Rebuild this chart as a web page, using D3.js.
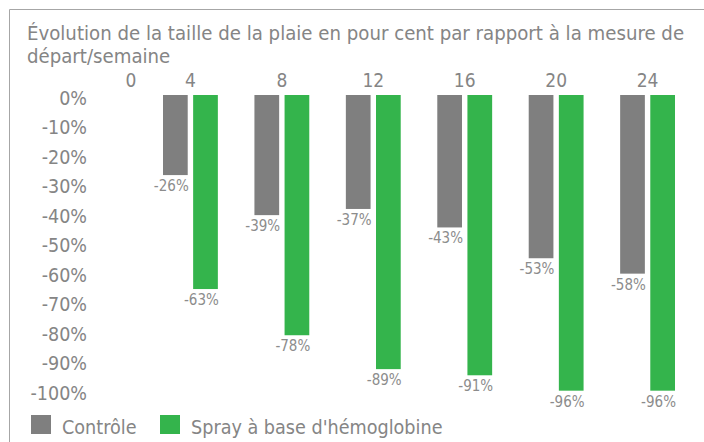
<!DOCTYPE html>
<html>
<head>
<meta charset="utf-8">
<script src="https://cdn.jsdelivr.net/npm/d3@7"></script>
<style>
  html, body { margin: 0; padding: 0; background: #fff; }
  svg text { font-family: "Liberation Sans Narrow", "DejaVu Sans Condensed", "Roboto Condensed", sans-serif; fill: #858585; }
</style>
</head>
<body>
<script>
// ---- data ----
const titleLines = ["Évolution de la taille de la plaie en pour cent par rapport à la mesure de", "départ/semaine"];
const weekLabels = ["0", "4", "8", "12", "16", "20", "24"];
const barWeeks = ["4", "8", "12", "16", "20", "24"];
const seriesNames = ["Contrôle", "Spray à base d'hémoglobine"];
const controle = [-26, -39, -37, -43, -53, -58];
const spray = [-63, -78, -89, -91, -96, -96];
const yTicks = [0, -10, -20, -30, -40, -50, -60, -70, -80, -90, -100];
const colors = ["#7f7f7f", "#34b44c"];

// ---- chart ----
const W = 704, H = 442;
const svg = d3.select("body").append("svg").attr("width", W).attr("height", H);

// frame
svg.append("path")
  .attr("d", "M9.5,442 L9.5,9.5 L704,9.5")
  .attr("fill", "none").attr("stroke", "#a6a6a6").attr("stroke-width", 1);

// title
svg.append("g").selectAll("text").data(titleLines).join("text")
  .attr("x", 27).attr("y", (d, i) => 40 + i * 23)
  .style("font-size", "20.2px")
  .text(d => d);

const x = d3.scaleBand().domain(barWeeks).range([163, 675]).paddingInner(0.4).paddingOuter(0);
const xs = d3.scaleBand().domain(seriesNames).range([0, x.bandwidth()]).paddingInner(0.18);
const yBar = d3.scaleLinear().domain([0, -100]).range([95, 403]);
const yAx = d3.scaleLinear().domain([0, -100]).range([98, 393]);

// week labels (top)
const weekX = w => barWeeks.includes(w) ? x(w) + x.bandwidth() / 2 : x(barWeeks[0]) + x.bandwidth() / 2 - 0.65 * x.step();
svg.append("g").selectAll("text").data(weekLabels).join("text")
  .attr("x", d => weekX(d)).attr("y", 87)
  .attr("text-anchor", "middle")
  .style("font-size", "19px")
  .text(d => d);

// y axis
const yAxis = d3.axisLeft(yAx).tickValues(yTicks).tickFormat(d => d + "%").tickSize(0).tickPadding(0);
const gy = svg.append("g").attr("transform", "translate(87,0)").call(yAxis);
gy.select(".domain").remove();
gy.selectAll("text").style("font-size", "19.5px").attr("fill", null).style("fill", "#858585")
  .style("font-family", "\"Liberation Sans Narrow\", \"DejaVu Sans Condensed\", sans-serif");

// bars
const rows = barWeeks.map((w, i) => ({ w, vals: [controle[i], spray[i]] }));
const groups = svg.append("g").selectAll("g").data(rows).join("g")
  .attr("transform", d => `translate(${x(d.w)},0)`);
groups.selectAll("rect").data(d => d.vals.map((v, j) => ({ v, s: seriesNames[j], j }))).join("rect")
  .attr("x", d => xs(d.s)).attr("width", xs.bandwidth())
  .attr("y", yBar(0)).attr("height", d => yBar(d.v) - yBar(0))
  .attr("fill", d => colors[d.j]);
groups.selectAll("text").data(d => d.vals.map((v, j) => ({ v, s: seriesNames[j], j }))).join("text")
  .attr("x", d => xs(d.s) + xs.bandwidth() + 1).attr("y", d => yBar(d.v) + 16)
  .attr("text-anchor", "end")
  .style("font-size", "15px")
  .style("fill", "#8c8c8c")
  .text(d => d.v + "%");

// legend
const leg = svg.append("g").attr("transform", "translate(31,415)");
const legX = [0, 129];
const li = leg.selectAll("g").data(seriesNames).join("g")
  .attr("transform", (d, i) => `translate(${legX[i]},0)`);
li.append("rect").attr("width", 20).attr("height", 19).attr("fill", (d, i) => colors[i]);
li.append("text").attr("x", 31).attr("y", 19).style("font-size", "19.6px").text(d => d);
</script>
</body>
</html>
